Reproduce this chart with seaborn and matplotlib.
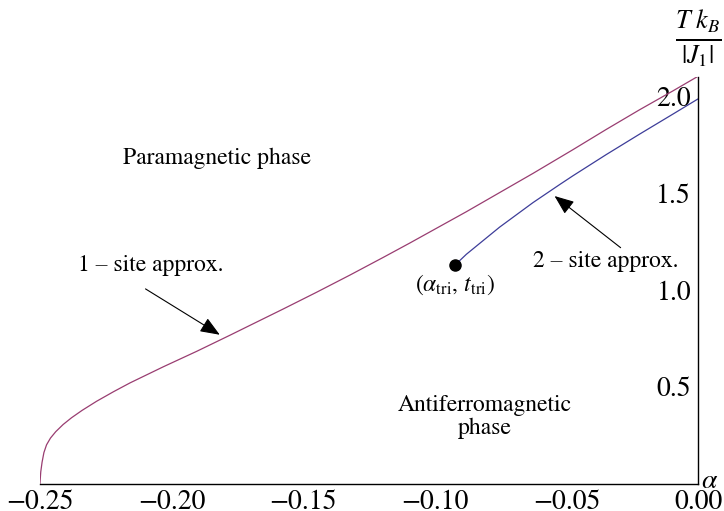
import matplotlib
matplotlib.use('Agg')
import matplotlib.pyplot as plt
import seaborn as sns
from matplotlib.ticker import MultipleLocator, FixedLocator, FuncFormatter

# 1-site approximation (critical line)
one_site_alpha = [-0.25, -0.2497, -0.2492, -0.2485, -0.2475, -0.2460, -0.2440, -0.2412,
                  -0.2380, -0.2340, -0.2285, -0.2220, -0.2158, -0.2032, -0.1905, -0.1779,
                  -0.1703, -0.1576, -0.1450, -0.1323, -0.1197, -0.1095, -0.0880, -0.0627,
                  -0.0476, -0.0349, -0.0222, -0.0096, 0.0]
one_site_T = [0.0, 0.06, 0.11, 0.16, 0.20, 0.235, 0.268, 0.305,
              0.340, 0.378, 0.425, 0.475, 0.520, 0.603, 0.683, 0.766,
              0.817, 0.902, 0.988, 1.077, 1.168, 1.243, 1.405, 1.603,
              1.725, 1.830, 1.932, 2.029, 2.105]

# 2-site approximation, starts at the tricritical point
two_site_alpha = [-0.0924, -0.0880, -0.0754, -0.0627, -0.0526, -0.0476, -0.0349, -0.0222,
                  -0.0096, 0.0]
two_site_T = [1.128, 1.185, 1.325, 1.452, 1.545, 1.590, 1.700, 1.806, 1.909, 1.988]

tri_alpha = -0.0924
tri_T = 1.128

y_ticks = [0.5, 1.0, 1.5, 2.0]

sns.set_style('white')
plt.rcParams['font.family'] = ['STIXGeneral', 'DejaVu Serif']
plt.rcParams['mathtext.fontset'] = 'stix'
plt.rcParams['text.color'] = 'black'
plt.rcParams['xtick.color'] = 'black'
plt.rcParams['ytick.color'] = 'black'

fig = plt.figure(figsize=(7.24, 5.11), dpi=100)
ax = fig.add_axes([0.0552, 0.0538, 0.9089, 0.7950])

sns.lineplot(x=one_site_alpha, y=one_site_T, sort=False, estimator=None,
             color=(0.6, 0.24, 0.442), lw=0.9, ax=ax)
sns.lineplot(x=two_site_alpha, y=two_site_T, sort=False, estimator=None,
             color=(0.24, 0.24, 0.6), lw=0.9, ax=ax)
ax.plot([tri_alpha], [tri_T], 'o', color='black', markersize=8, zorder=5)

ax.set_xlim(-0.25, 0.0)
ax.set_ylim(0.0, 2.1)

# Mathematica-like axes: y axis sits at alpha = 0 (the right edge)
ax.spines['top'].set_visible(False)
ax.spines['right'].set_visible(False)
ax.spines['left'].set_position(('data', 0))
for s in ['left', 'bottom']:
    ax.spines[s].set_color('black')
    ax.spines[s].set_linewidth(1.0)

minus = lambda fmt: FuncFormatter(lambda v, p: (fmt % v).replace('-', '\u2212'))
ax.xaxis.set_major_locator(MultipleLocator(0.05))
ax.xaxis.set_minor_locator(MultipleLocator(0.01))
ax.xaxis.set_major_formatter(minus('%.2f'))
ax.yaxis.set_major_locator(FixedLocator(y_ticks))
ax.yaxis.set_minor_locator(MultipleLocator(0.1))
ax.yaxis.set_major_formatter(minus('%.1f'))

ax.tick_params(axis='x', which='major', direction='in', length=3, width=0.8,
               labelsize=20, pad=4.5)
ax.tick_params(axis='x', which='minor', direction='in', length=2, width=0.6)
ax.tick_params(axis='y', which='major', direction='out', length=4.5, width=0.8,
               labelsize=20, pad=0.5)
ax.tick_params(axis='y', which='minor', direction='out', length=2.2, width=0.6)

# axis labels at the ends of the axes
ax.text(0.0, 2.30, r'$\frac{T\ k_B}{|J_1|}$', fontsize=27, ha='center', va='center',
        clip_on=False)
ax.text(0.0044, 0.013, r'$\alpha$', fontsize=20, ha='center', va='center', clip_on=False)

# phase labels
ax.text(-0.1829, 1.68, 'Paramagnetic phase', fontsize=17, ha='center', va='center')
ax.text(-0.0810, 0.347, 'Antiferromagnetic\nphase', fontsize=17, ha='center', va='center',
        multialignment='center', linespacing=1.1)
ax.text(tri_alpha, 1.028, r'$(\alpha_{\rm tri},\, t_{\rm tri})$', fontsize=17,
        ha='center', va='center')

# arrows pointing at the curves
arrow = dict(arrowstyle='-|>,head_length=0.6,head_width=0.24', mutation_scale=20,
             color='black', lw=0.8, shrinkA=0, shrinkB=0)
ax.annotate('', xy=(-0.1817, 0.769), xytext=(-0.2099, 1.006), arrowprops=arrow)
ax.text(-0.2078, 1.127, '1 – site approx.', fontsize=17, ha='center', va='center')
ax.annotate('', xy=(-0.0545, 1.486), xytext=(-0.0294, 1.219), arrowprops=arrow)
ax.text(-0.0352, 1.149, '2 – site approx.', fontsize=17, ha='center', va='center')

fig.savefig('out.png', dpi=100)
